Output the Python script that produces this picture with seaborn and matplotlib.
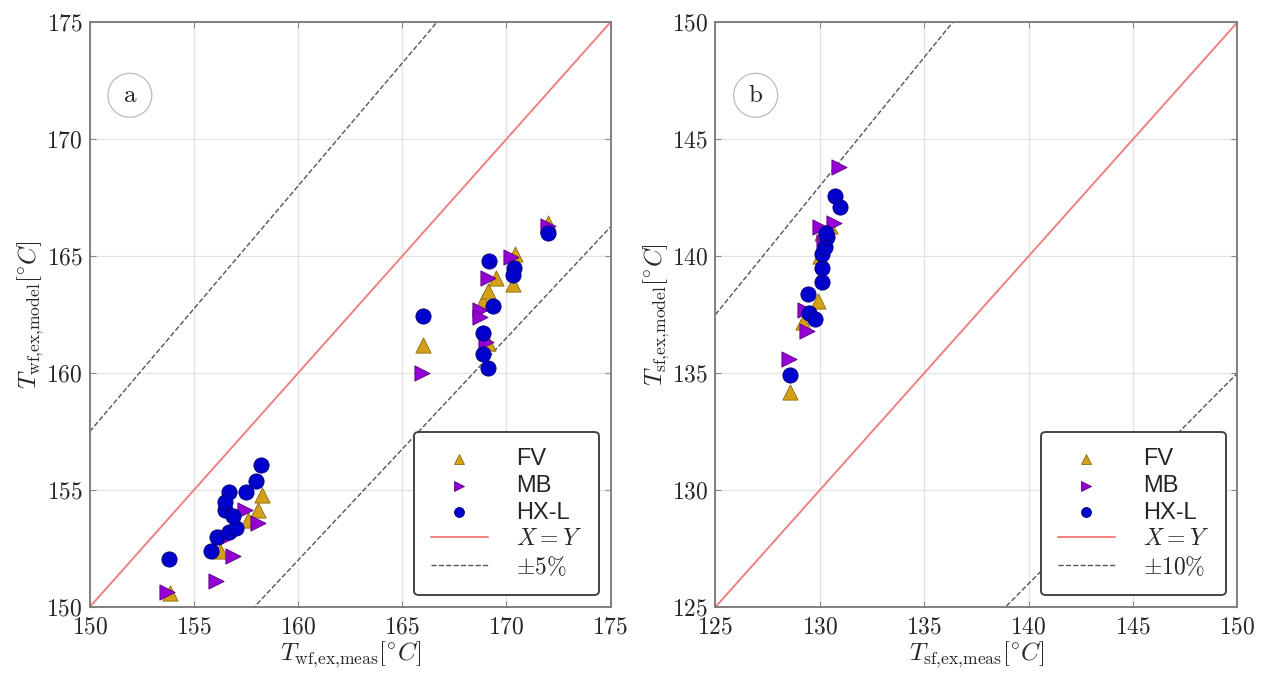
import matplotlib
matplotlib.use("Agg")
import matplotlib.pyplot as plt
import numpy as np
import pandas as pd
import seaborn as sns
from matplotlib.ticker import FuncFormatter

# panel a: working fluid exit temperature (measured, model)
wf_fv_meas = [153.85, 156.25, 157.6, 158.1, 158.25, 166.0, 168.9, 169.1, 169.5, 169.1, 170.4, 170.3, 172.0]
wf_fv_model = [150.6, 152.4, 153.7, 154.15, 154.8, 161.2, 163.1, 163.5, 164.05, 161.3, 165.1, 163.8, 166.4]
wf_mb_meas = [153.7, 156.06, 156.9, 158.1, 157.45, 156.6, 165.95, 169.1, 168.75, 168.75, 169.0, 170.2, 172.0]
wf_mb_model = [150.65, 151.1, 152.2, 153.6, 154.15, 153.0, 160.0, 164.05, 162.7, 162.4, 161.35, 164.97, 166.3]
wf_hx_meas = [153.8, 155.8, 156.1, 156.7, 157.0, 156.5, 156.7, 157.5, 158.0, 158.2, 156.9, 156.5,
              166.0, 169.15, 169.35, 168.9, 168.9, 169.1, 170.35, 170.3, 172.0]
wf_hx_model = [152.05, 152.4, 153.0, 153.2, 153.4, 154.15, 154.9, 154.9, 155.4, 156.07, 153.9, 154.5,
               162.44, 164.8, 162.85, 161.7, 160.8, 160.2, 164.5, 164.2, 166.0]

# panel b: secondary fluid exit temperature (measured, model)
sf_fv_meas = [128.55, 129.2, 129.9, 130.0, 130.1, 130.5]
sf_fv_model = [134.2, 137.2, 138.1, 140.0, 141.0, 141.3]
sf_mb_meas = [128.5, 129.3, 129.4, 130.0, 130.67, 130.9, 130.2]
sf_mb_model = [135.6, 137.7, 136.8, 141.25, 141.4, 143.8, 140.6]
sf_hx_meas = [128.55, 129.45, 129.47, 129.75, 130.1, 130.1, 130.1, 130.27, 130.35, 130.75, 130.95, 130.3]
sf_hx_model = [134.9, 138.4, 137.55, 137.3, 138.9, 139.5, 140.1, 140.4, 140.8, 142.55, 142.1, 141.0]

sns.set_style("whitegrid")
plt.rcParams["mathtext.fontset"] = "cm"
plt.rcParams["font.family"] = ["Liberation Sans", "DejaVu Sans"]

fig = plt.figure(figsize=(12.64, 6.73), dpi=100)
ax_a = fig.add_axes([0.071, 0.098, 0.412, 0.869])
ax_b = fig.add_axes([0.566, 0.098, 0.413, 0.869])

styles = {
    "FV": dict(marker="^", color="#d4a017", edgecolor="#8a6a10"),
    "MB": dict(marker=">", color="#9400d3", edgecolor="#5a0080"),
    "HX-L": dict(marker="o", color="#0000cd", edgecolor="#00007a"),
}


def panel(ax, series, lo, hi, band, letter, xlabel, ylabel):
    for name, xs, ys in series:
        st = styles[name]
        df = pd.DataFrame({"meas": xs, "model": ys})
        sns.scatterplot(data=df, x="meas", y="model", ax=ax, marker=st["marker"],
                        color=st["color"], edgecolor=st["edgecolor"], linewidth=0.6,
                        s=120, label=name, zorder=3)
    ref = np.array([lo, hi])
    ax.plot(ref, ref, color="#f08080", lw=1.4, label="$X=Y$", zorder=2)
    ax.plot(ref, ref * (1 + band), color="#555555", ls="--", lw=1.0, label=rf"$\pm{int(band * 100)}\%$", zorder=2)
    ax.plot(ref, ref * (1 - band), color="#555555", ls="--", lw=1.0, zorder=2)
    ax.set_xlim(lo, hi)
    ax.set_ylim(lo, hi)
    ticks = np.arange(lo, hi + 1, 5)
    ax.set_xticks(ticks)
    ax.set_yticks(ticks)
    fmt = FuncFormatter(lambda v, _: f"${v:g}$")
    ax.xaxis.set_major_formatter(fmt)
    ax.yaxis.set_major_formatter(fmt)
    ax.tick_params(labelsize=17, direction="in", length=4, color="#888888",
                   top=True, right=True, bottom=True, left=True)
    ax.tick_params(axis="x", pad=7)
    ax.tick_params(axis="y", pad=5)
    ax.grid(color="#e3e3e3", lw=0.9)
    for sp in ax.spines.values():
        sp.set_color("#7f7f7f")
        sp.set_linewidth(1.4)
    ax.set_xlabel(xlabel, fontsize=18, labelpad=0)
    ax.set_ylabel(ylabel, fontsize=18, labelpad=0)
    leg = ax.legend(loc="lower right", fontsize=17, frameon=True, fancybox=True,
                    handlelength=2.4, borderpad=0.7, labelspacing=0.2,
                    markerscale=0.65, borderaxespad=0.5, handletextpad=1.2)
    leg.get_frame().set_edgecolor("#444444")
    leg.get_frame().set_linewidth(1.4)
    leg.get_frame().set_alpha(1)
    ax.text(0.077, 0.875, letter, transform=ax.transAxes, fontsize=18, ha="center", va="center",
            bbox=dict(boxstyle="circle,pad=0.4", fc="white", ec="#bbbbbb", lw=0.9))


panel(ax_a,
      [("FV", wf_fv_meas, wf_fv_model), ("MB", wf_mb_meas, wf_mb_model), ("HX-L", wf_hx_meas, wf_hx_model)],
      150, 175, 0.05, r"$\mathrm{a}$",
      r"$T_{\mathrm{wf{,}ex{,}meas}}[^{\circ}C]$", r"$T_{\mathrm{wf{,}ex{,}model}}[^{\circ}C]$")
panel(ax_b,
      [("FV", sf_fv_meas, sf_fv_model), ("MB", sf_mb_meas, sf_mb_model), ("HX-L", sf_hx_meas, sf_hx_model)],
      125, 150, 0.10, r"$\mathrm{b}$",
      r"$T_{\mathrm{sf{,}ex{,}meas}}[^{\circ}C]$", r"$T_{\mathrm{sf{,}ex{,}model}}[^{\circ}C]$")

fig.savefig("out.png", dpi=100)
